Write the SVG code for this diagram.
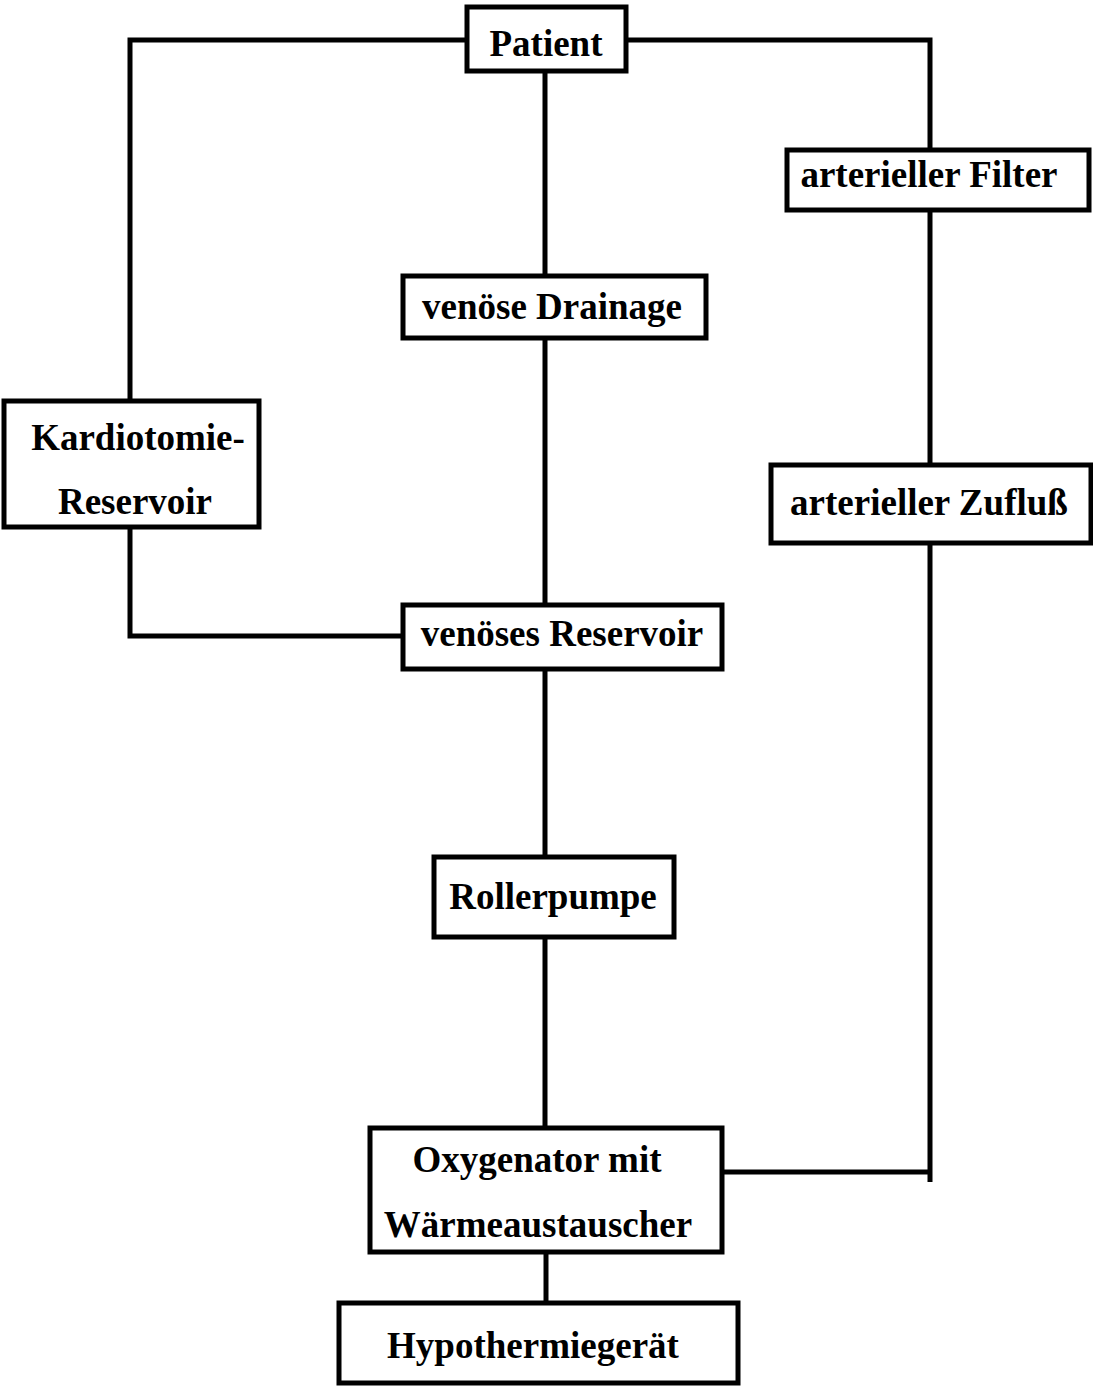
<svg xmlns="http://www.w3.org/2000/svg" width="1093" height="1387" viewBox="0 0 1093 1387">
<style>
.box{fill:#fff;stroke:#000;stroke-width:5}
.ln{fill:none;stroke:#000;stroke-width:5}
.t{font-family:"Liberation Serif","Times New Roman",serif;font-weight:bold;font-size:37px;fill:#000;text-anchor:middle}
</style>
<rect width="1093" height="1387" fill="#fff"/>
<g id="connectors">
<path class="ln" d="M467,40 H130 V401"/>
<path class="ln" d="M626,40 H930 V150"/>
<path class="ln" d="M545,71 V276"/>
<path class="ln" d="M545,338 V605"/>
<path class="ln" d="M930,210 V465"/>
<path class="ln" d="M130,527 V636 H403"/>
<path class="ln" d="M545,669 V857"/>
<path class="ln" d="M545,937 V1128"/>
<path class="ln" d="M930,543 V1182"/>
<path class="ln" d="M722,1172 H930"/>
<path class="ln" d="M546,1252 V1303"/>
</g>
<g id="patient"><rect class="box" x="467" y="7" width="159" height="64"/><text class="t" x="546" y="56">Patient</text></g>
<g id="arterieller-filter"><rect class="box" x="787" y="150" width="302" height="60"/><text class="t" x="929" y="187">arterieller Filter</text></g>
<g id="venoese-drainage"><rect class="box" x="403" y="276" width="303" height="62"/><text class="t" x="552" y="319">venöse Drainage</text></g>
<g id="kardiotomie-reservoir"><rect class="box" x="4" y="401" width="255" height="126"/><text class="t" x="138" y="450">Kardiotomie-</text><text class="t" x="135" y="514">Reservoir</text></g>
<g id="arterieller-zufluss"><rect class="box" x="771" y="465" width="320" height="78"/><text class="t" x="929" y="515">arterieller Zufluß</text></g>
<g id="venoeses-reservoir"><rect class="box" x="403" y="605" width="319" height="64"/><text class="t" x="562" y="646">venöses Reservoir</text></g>
<g id="rollerpumpe"><rect class="box" x="434" y="857" width="240" height="80"/><text class="t" x="553" y="909">Rollerpumpe</text></g>
<g id="oxygenator"><rect class="box" x="370" y="1128" width="352" height="124"/><text class="t" x="537" y="1172">Oxygenator mit</text><text class="t" x="538" y="1237">Wärmeaustauscher</text></g>
<g id="hypothermiegeraet"><rect class="box" x="339" y="1303" width="399" height="80"/><text class="t" x="533" y="1358">Hypothermiegerät</text></g>
</svg>
